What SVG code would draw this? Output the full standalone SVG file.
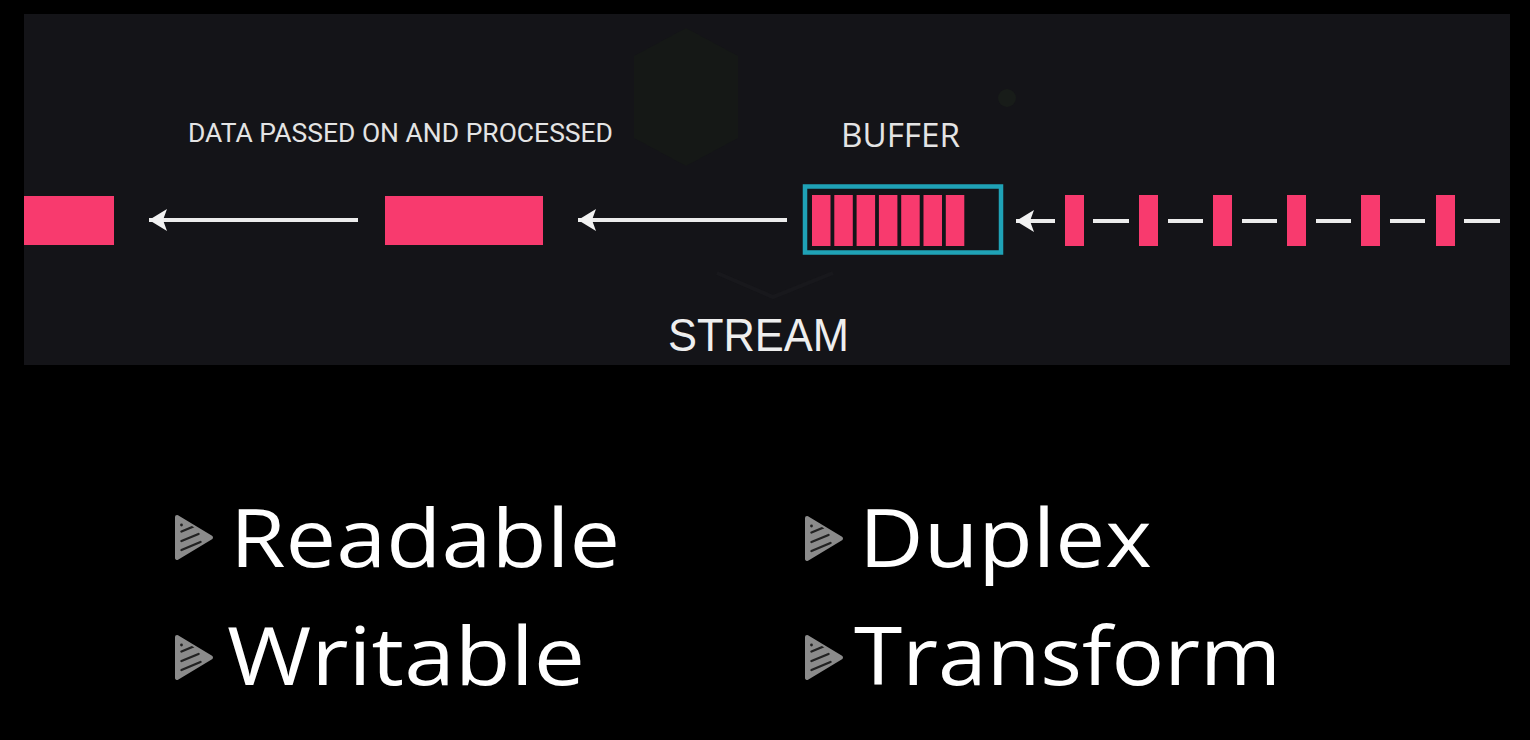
<svg xmlns="http://www.w3.org/2000/svg" width="1530" height="740" viewBox="0 0 1530 740">
  <style>
    .pink { fill: #f83a6e; }
    .wire { stroke: #ececec; stroke-width: 4; fill: none; }
    .lbl { fill: #e4e4e4; }
    .big { fill: #ffffff; font-family: "Open Sans", "Liberation Sans", sans-serif; font-weight: 400; font-size: 81px; }
  </style>
  <defs>
    <marker id="head" markerUnits="userSpaceOnUse" markerWidth="20" markerHeight="26" refX="19" refY="13" orient="auto" viewBox="0 0 20 26">
      <path d="M19,13 L1,2 L5,13 L1,24 Z" fill="#f2f2f2"/>
    </marker>
    <clipPath id="triClip">
      <polygon points="2,2 36,22.5 2,43"/>
    </clipPath>
    <symbol id="bullet" viewBox="0 0 38 45" width="38" height="45" overflow="visible">
      <polygon points="2,2 36,22.5 2,43" fill="#8b8b8b" stroke="#8b8b8b" stroke-width="4" stroke-linejoin="round"/>
      <g clip-path="url(#triClip)" stroke="#222" stroke-width="2.4" stroke-linecap="round">
        <line x1="6.5" y1="16.5" x2="18.5" y2="11.5"/>
        <line x1="6.5" y1="26" x2="23.5" y2="19"/>
        <line x1="6.5" y1="35" x2="25.5" y2="27"/>
      </g>
      <circle cx="6.5" cy="10" r="1.4" fill="#222"/>
    </symbol>
  </defs>

  <rect x="0" y="0" width="1530" height="740" fill="#000"/>

  <g id="panel">
    <rect x="24" y="14" width="1486" height="351" fill="#141418"/>
    <polygon points="686,28 738,56 738,138 686,166 634,138 634,56" fill="#151816"/>
    <circle cx="1007" cy="98" r="9" fill="#181c19"/>
    <polyline points="717,273 773,297 833,273" fill="none" stroke="#18181c" stroke-width="4"/>
  </g>

  <g id="labels">
    <text id="lbl-data" class="lbl" x="188" y="142" font-family="Roboto, 'Liberation Sans', sans-serif" font-size="25" textLength="425" lengthAdjust="spacingAndGlyphs" fill="#dadada">DATA PASSED ON AND PROCESSED</text>
    <text id="lbl-buffer" class="lbl" x="841" y="147" font-family="'Open Sans', 'Liberation Sans', sans-serif" font-size="33" textLength="119" lengthAdjust="spacingAndGlyphs">BUFFER</text>
    <text id="lbl-stream" x="668" y="351" font-family="'Liberation Sans', sans-serif" font-size="47" textLength="181" lengthAdjust="spacingAndGlyphs" fill="#eeeeee">STREAM</text>
  </g>

  <g id="connectors">
    <line class="wire" x1="358" y1="220" x2="149" y2="220" marker-end="url(#head)"/>
    <line class="wire" x1="787" y1="220" x2="578" y2="220" marker-end="url(#head)"/>
    <line class="wire" x1="1055" y1="221" x2="1016" y2="221" marker-end="url(#head)"/>
    <line class="wire" x1="1093" y1="221" x2="1129" y2="221"/>
    <line class="wire" x1="1168" y1="221" x2="1203" y2="221"/>
    <line class="wire" x1="1242" y1="221" x2="1277" y2="221"/>
    <line class="wire" x1="1316" y1="221" x2="1351" y2="221"/>
    <line class="wire" x1="1390" y1="221" x2="1425" y2="221"/>
    <line class="wire" x1="1464" y1="221" x2="1500" y2="221"/>
  </g>

  <g id="processed-out">
    <rect class="pink" x="24" y="196" width="90" height="49"/>
  </g>
  <g id="processed">
    <rect class="pink" x="385" y="196" width="158" height="49"/>
  </g>

  <g id="buffer">
    <rect x="805" y="186.5" width="196" height="66" fill="none" stroke="#1fa2b6" stroke-width="4.5"/>
    <rect class="pink" x="812" y="195" width="18.5" height="51"/>
    <rect class="pink" x="834.3" y="195" width="18.5" height="51"/>
    <rect class="pink" x="856.6" y="195" width="18.5" height="51"/>
    <rect class="pink" x="878.9" y="195" width="18.5" height="51"/>
    <rect class="pink" x="901.2" y="195" width="18.5" height="51"/>
    <rect class="pink" x="923.5" y="195" width="18.5" height="51"/>
    <rect class="pink" x="945.8" y="195" width="18.5" height="51"/>
  </g>

  <g id="incoming">
    <rect class="pink" x="1065" y="195" width="19" height="51"/>
    <rect class="pink" x="1139" y="195" width="19" height="51"/>
    <rect class="pink" x="1213" y="195" width="19" height="51"/>
    <rect class="pink" x="1287" y="195" width="19" height="51"/>
    <rect class="pink" x="1361" y="195" width="19" height="51"/>
    <rect class="pink" x="1436" y="195" width="19" height="51"/>
  </g>

  <g id="item-readable">
    <use href="#bullet" x="175" y="515"/>
    <text class="big" x="230" y="567" textLength="390" lengthAdjust="spacingAndGlyphs">Readable</text>
  </g>
  <g id="item-writable">
    <use href="#bullet" x="175" y="635"/>
    <text class="big" x="227" y="685" textLength="358" lengthAdjust="spacingAndGlyphs">Writable</text>
  </g>
  <g id="item-duplex">
    <use href="#bullet" x="805" y="516"/>
    <text class="big" x="859" y="567" textLength="293" lengthAdjust="spacingAndGlyphs">Duplex</text>
  </g>
  <g id="item-transform">
    <use href="#bullet" x="805" y="635"/>
    <text class="big" x="854" y="685" textLength="427" lengthAdjust="spacingAndGlyphs">Transform</text>
  </g>
</svg>
